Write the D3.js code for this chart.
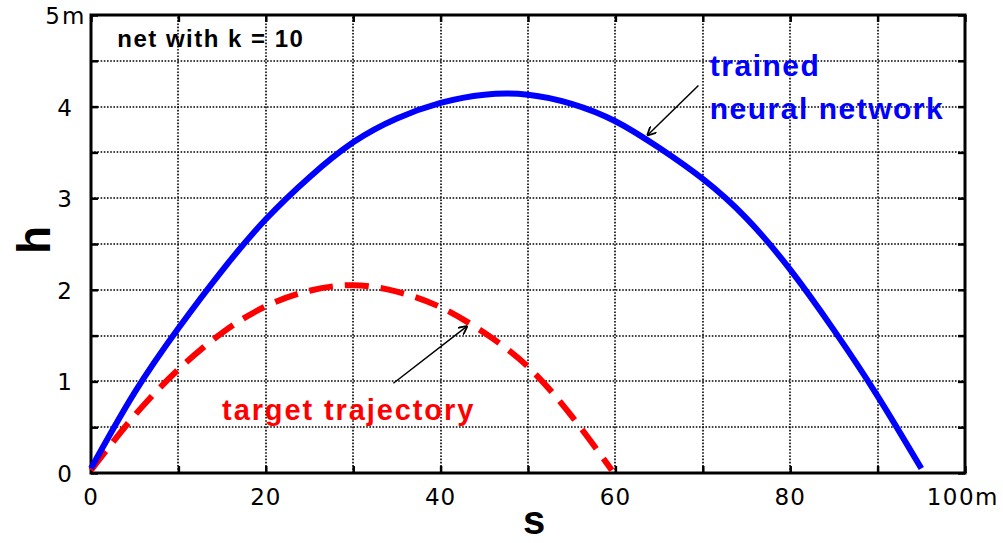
<!DOCTYPE html>
<html>
<head>
<meta charset="utf-8">
<script src="https://cdn.jsdelivr.net/npm/d3@7"></script>
<style>
  body { margin: 0; background: #fff; }
  svg { display: block; }
</style>
</head>
<body>
<script>
// data (s in m, h in m)
var netS = [0, 5, 10, 15, 20, 25, 30, 35, 40, 45, 50, 55, 60, 65, 70, 75, 80, 85, 90, 95];
var netH = [0.05, 0.88, 1.58, 2.21, 2.77, 3.23, 3.61, 3.87, 4.04, 4.13, 4.13, 4.03, 3.84, 3.55, 3.21, 2.78, 2.22, 1.56, 0.84, 0.05];

var targetS = [0, 5, 10, 15, 20, 25, 30, 35, 40, 45, 50, 55, 59.6];
var targetH = [0.03, 0.63, 1.13, 1.53, 1.82, 1.99, 2.05, 1.98, 1.81, 1.53, 1.16, 0.62, 0.03];

var xTickLabels = ['0', '20', '40', '60', '80'];
var yTickLabels = ['0', '1', '2', '3', '4'];
var xLastLabel = '100m';
var yLastLabel = '5';

var width = 1003, height = 543;
var margin = {top: 15, right: 38, bottom: 70, left: 91};

var svg = d3.select('body').append('svg').attr('width', width).attr('height', height);

var x = d3.scaleLinear().domain([0, 100]).range([margin.left, width - margin.right]);
var y = d3.scaleLinear().domain([0, 5]).range([height - margin.bottom, margin.top]);

var minorX = d3.range(0, 101, 10);
var minorY = d3.range(0, 5.01, 0.5);

// dotted grid
var grid = svg.append('g').attr('stroke', '#000').attr('stroke-width', 1.6).attr('stroke-dasharray', '1.6,1.6');
grid.selectAll('.gx').data(minorX.slice(1, -1)).enter().append('line')
  .attr('x1', function (d) { return Math.round(x(d)); }).attr('x2', function (d) { return Math.round(x(d)); })
  .attr('y1', y(0)).attr('y2', y(5));
grid.selectAll('.gy').data(minorY.slice(1, -1)).enter().append('line')
  .attr('y1', function (d) { return Math.round(y(d)); }).attr('y2', function (d) { return Math.round(y(d)); })
  .attr('x1', x(0)).attr('x2', x(100));

// axes with inward ticks
var tick = 7;
svg.append('g').attr('transform', 'translate(0,' + y(0) + ')')
  .call(d3.axisTop(x).tickValues(minorX).tickSize(tick).tickFormat(''));
svg.append('g').attr('transform', 'translate(0,' + y(5) + ')')
  .call(d3.axisBottom(x).tickValues(minorX).tickSize(tick).tickFormat(''));
svg.append('g').attr('transform', 'translate(' + x(0) + ',0)')
  .call(d3.axisRight(y).tickValues(minorY).tickSize(tick).tickFormat(''));
svg.append('g').attr('transform', 'translate(' + x(100) + ',0)')
  .call(d3.axisLeft(y).tickValues(minorY).tickSize(tick).tickFormat(''));
svg.selectAll('.domain').remove();
svg.selectAll('.tick line').attr('stroke', '#000').attr('stroke-width', 2.5);

// frame
svg.append('rect').attr('x', x(0)).attr('y', y(5))
  .attr('width', x(100) - x(0)).attr('height', y(0) - y(5))
  .attr('fill', 'none').attr('stroke', '#000').attr('stroke-width', 3);

// tick labels
var labelFont = '"DejaVu Sans", sans-serif';
svg.append('g').selectAll('text').data(xTickLabels).enter().append('text')
  .attr('x', function (d) { return x(+d); })
  .attr('y', y(0) + 32)
  .attr('text-anchor', 'middle')
  .attr('font-family', labelFont).attr('font-size', 23).attr('letter-spacing', 1)
  .text(function (d) { return d; });
svg.append('text').attr('x', 999).attr('y', y(0) + 32)
  .attr('text-anchor', 'end')
  .attr('font-family', labelFont).attr('font-size', 23).attr('letter-spacing', 1.5)
  .text(xLastLabel);

svg.append('g').selectAll('text').data(yTickLabels).enter().append('text')
  .attr('x', x(0) - 19)
  .attr('y', function (d) { return y(+d) + 9; })
  .attr('text-anchor', 'end')
  .attr('font-family', labelFont).attr('font-size', 23)
  .text(function (d) { return d; });
svg.append('text').attr('x', x(0) - 31).attr('y', y(5) + 9)
  .attr('text-anchor', 'end')
  .attr('font-family', labelFont).attr('font-size', 23).text(yLastLabel);
svg.append('text').attr('x', x(0) - 29).attr('y', y(5) + 9)
  .attr('font-family', labelFont).attr('font-size', 23).text('m');

// axis titles
var bold = '"Liberation Sans", Arial, sans-serif';
svg.append('text').attr('transform', 'translate(' + 50 + ',' + 240 + ') rotate(-90)')
  .attr('text-anchor', 'middle')
  .attr('font-family', bold).attr('font-weight', 'bold').attr('font-size', 46)
  .text('h');
svg.append('text').attr('x', 534).attr('y', 534)
  .attr('text-anchor', 'middle')
  .attr('font-family', bold).attr('font-weight', 'bold').attr('font-size', 40)
  .text('s');

// curves
var line = d3.line()
  .x(function (d) { return x(d[0]); })
  .y(function (d) { return y(d[1]); })
  .curve(d3.curveNatural);

svg.append('path').datum(d3.zip(targetS, targetH))
  .attr('d', line).attr('fill', 'none')
  .attr('stroke', '#ff0000').attr('stroke-width', 6).attr('stroke-dasharray', '24,12');

svg.append('path').datum(d3.zip(netS, netH))
  .attr('d', line).attr('fill', 'none')
  .attr('stroke', '#0000ff').attr('stroke-width', 6);

// annotations
svg.append('text').attr('x', x(3)).attr('y', y(4.65))
  .attr('font-family', bold).attr('font-weight', 'bold').attr('font-size', 24).attr('letter-spacing', 1.5)
  .attr('fill', '#000').text('net with k = 10');

svg.append('text').attr('x', x(70.8)).attr('y', y(4.33))
  .attr('font-family', bold).attr('font-weight', 'bold').attr('font-size', 30).attr('letter-spacing', 1.5)
  .attr('fill', '#0000ff').text('trained');
svg.append('text').attr('x', x(70.8)).attr('y', y(3.87))
  .attr('font-family', bold).attr('font-weight', 'bold').attr('font-size', 30).attr('letter-spacing', 1.5)
  .attr('fill', '#0000ff').text('neural network');

svg.append('text').attr('x', x(15)).attr('y', y(0.58))
  .attr('font-family', bold).attr('font-weight', 'bold').attr('font-size', 29).attr('letter-spacing', 1.9)
  .attr('fill', '#ff0000').text('target trajectory');

svg.append('defs').append('marker')
  .attr('id', 'arrow').attr('viewBox', '0 0 10 10')
  .attr('refX', 9).attr('refY', 5)
  .attr('markerWidth', 9).attr('markerHeight', 9)
  .attr('markerUnits', 'userSpaceOnUse')
  .attr('orient', 'auto')
  .append('path').attr('d', 'M0,0 L10,5 L0,10')
  .attr('fill', 'none').attr('stroke', '#000').attr('stroke-width', 2);

svg.append('line')
  .attr('x1', x(69.5)).attr('y1', y(4.23)).attr('x2', x(63.7)).attr('y2', y(3.69))
  .attr('stroke', '#000').attr('stroke-width', 1.5).attr('marker-end', 'url(#arrow)');
svg.append('line')
  .attr('x1', x(34.6)).attr('y1', y(0.98)).attr('x2', x(43.0)).attr('y2', y(1.60))
  .attr('stroke', '#000').attr('stroke-width', 1.5).attr('marker-end', 'url(#arrow)');
</script>
</body>
</html>
